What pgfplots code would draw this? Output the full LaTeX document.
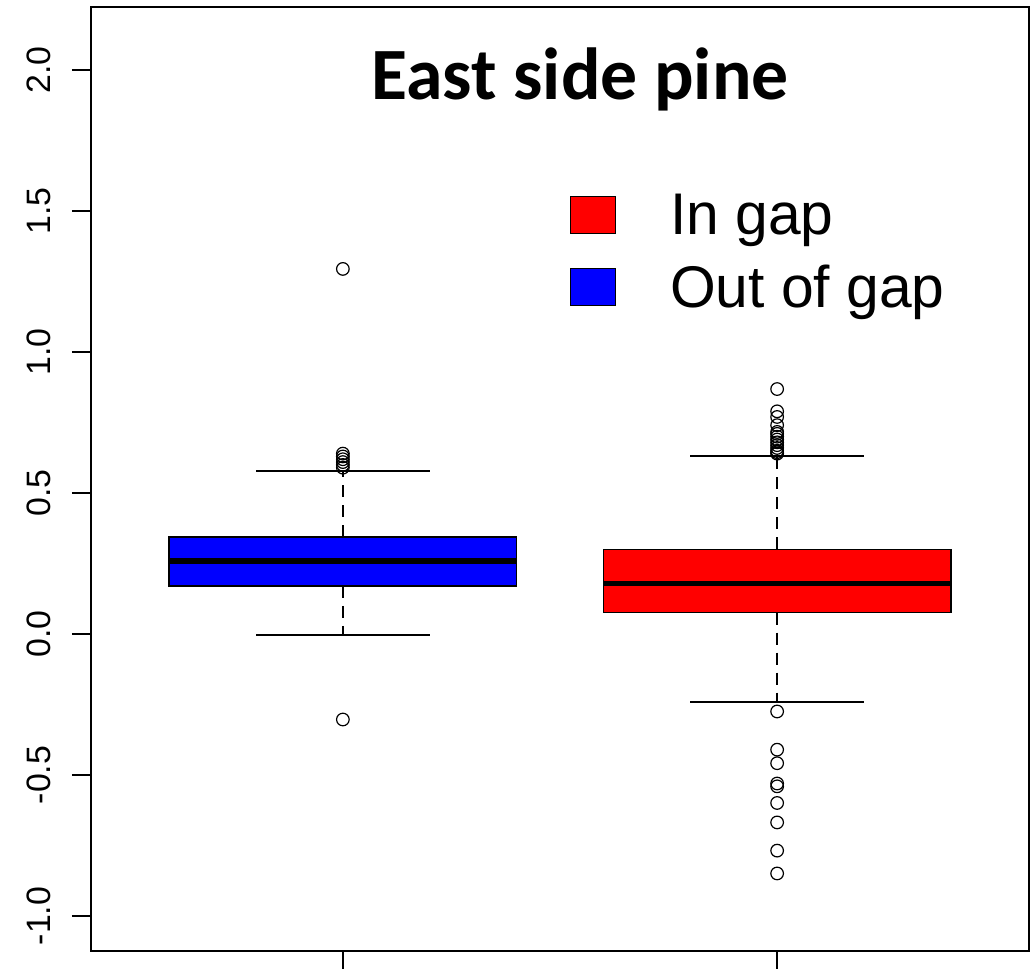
\documentclass[border=0pt]{standalone}
\usepackage{pgfplots}
\pgfplotsset{compat=1.18}
\usepackage{fontspec}
\setmainfont{Liberation Sans}
\newfontfamily\titlefont{Carlito}
\begin{document}
\begin{tikzpicture}
\begin{axis}[
  at={(0,0)}, anchor=south west,
  scale only axis, width=938bp, height=944bp,
  xmin=0.42, xmax=2.58, ymin=-1.124, ymax=2.224,
  axis line style={line width=1.4bp, black},
  xtick={1,2}, xticklabels={,},
  ytick={-1,-0.5,0,0.5,1,1.5,2},
  yticklabels={-1.0,-0.5,0.0,0.5,1.0,1.5,2.0},
  xtick pos=bottom, ytick pos=left,
  tick align=outside,
  major tick length=19bp,
  xtick style={line width=1.4bp, black},
  ytick style={line width=1.4bp, black},
  yticklabel shift=18bp,
  yticklabel style={rotate=90, anchor=south, font=\fontsize{34}{38}\selectfont},
  legend style={at={(axis description cs:0.5107,0.8040)}, anchor=north west,
    draw=none, fill=none, inner sep=0pt, row sep=25bp,
    font=\fontsize{59}{62}\selectfont,
    nodes={inner sep=2bp},
    /tikz/every odd column/.append style={column sep=52bp}},
  legend cell align=left,
  legend image code/.code={\draw[#1] (0bp,-18bp) rectangle (45bp,19bp);},
]
% Out of gap (blue) box, median, whiskers
\addplot[forget plot, fill=blue, draw=black, line width=1.4bp]
  coordinates {(0.6,0.1705)(1.4,0.1705)(1.4,0.3445)(0.6,0.3445)} -- cycle;
\addplot[forget plot, black, line width=5.5bp] coordinates {(0.6,0.259)(1.4,0.259)};
\addplot[forget plot, black, line width=1.4bp, dash pattern=on 12bp off 8bp]
  coordinates {(1,0.3445)(1,0.579)};
\addplot[forget plot, black, line width=1.4bp, dash pattern=on 12bp off 8bp]
  coordinates {(1,0.1705)(1,-0.003)};
% In gap (red)
\addplot[forget plot, fill=red, draw=black, line width=1.4bp]
  coordinates {(1.6,0.076)(2.4,0.076)(2.4,0.301)(1.6,0.301)} -- cycle;
\addplot[forget plot, black, line width=5.5bp] coordinates {(1.6,0.179)(2.4,0.179)};
\addplot[forget plot, black, line width=1.4bp, dash pattern=on 12bp off 8bp]
  coordinates {(2,0.301)(2,0.632)};
\addplot[forget plot, black, line width=1.4bp, dash pattern=on 12bp off 8bp]
  coordinates {(2,0.076)(2,-0.2415)};
% whisker caps
\addplot[forget plot, black, line width=1.4bp] coordinates {(0.8,0.579)(1.2,0.579)};
\addplot[forget plot, black, line width=1.4bp] coordinates {(0.8,-0.003)(1.2,-0.003)};
\addplot[forget plot, black, line width=1.4bp] coordinates {(1.8,0.632)(2.2,0.632)};
\addplot[forget plot, black, line width=1.4bp] coordinates {(1.8,-0.2415)(2.2,-0.2415)};
% outliers
\addplot[forget plot, only marks, mark=o, mark size=6.3bp, mark options={line width=1.2bp, black}]
 coordinates {(1,1.295)(1,0.64)(1,0.63)(1,0.62)(1,0.61)(1,0.60)(1,0.59)(1,-0.303)};
\addplot[forget plot, only marks, mark=o, mark size=6.3bp, mark options={line width=1.2bp, black}]
 coordinates {(2,0.869)(2,0.79)(2,0.77)(2,0.741)(2,0.717)(2,0.71)(2,0.70)(2,0.69)(2,0.68)
 (2,0.67)(2,0.66)(2,0.65)(2,0.645)(2,0.64)
 (2,-0.2745)(2,-0.41)(2,-0.458)(2,-0.53)(2,-0.54)(2,-0.599)(2,-0.668)(2,-0.768)(2,-0.849)};
\addlegendimage{fill=red, draw=black, line width=1bp}
\addlegendentry{In gap}
\addlegendimage{fill=blue, draw=black, line width=1bp}
\addlegendentry{Out of gap}
\node[anchor=base, font=\titlefont\bfseries\fontsize{74}{80}\selectfont]
  at (axis description cs:0.5213,0.9015) {East side pine};
\end{axis}
% y-axis tick marks, outside the left edge of the axis box (axis box from (0,0) to (938bp,944bp))
\foreach \ty in {34.96,175.94,316.92,457.90,598.88,739.86,880.84}{
  \draw[line width=1.4bp, black] (0bp,\ty bp) -- (-19bp,\ty bp);
}
\pgfresetboundingbox
\path[use as bounding box] (-91bp,-18bp) rectangle (941bp,951bp);
\end{tikzpicture}
\end{document}
